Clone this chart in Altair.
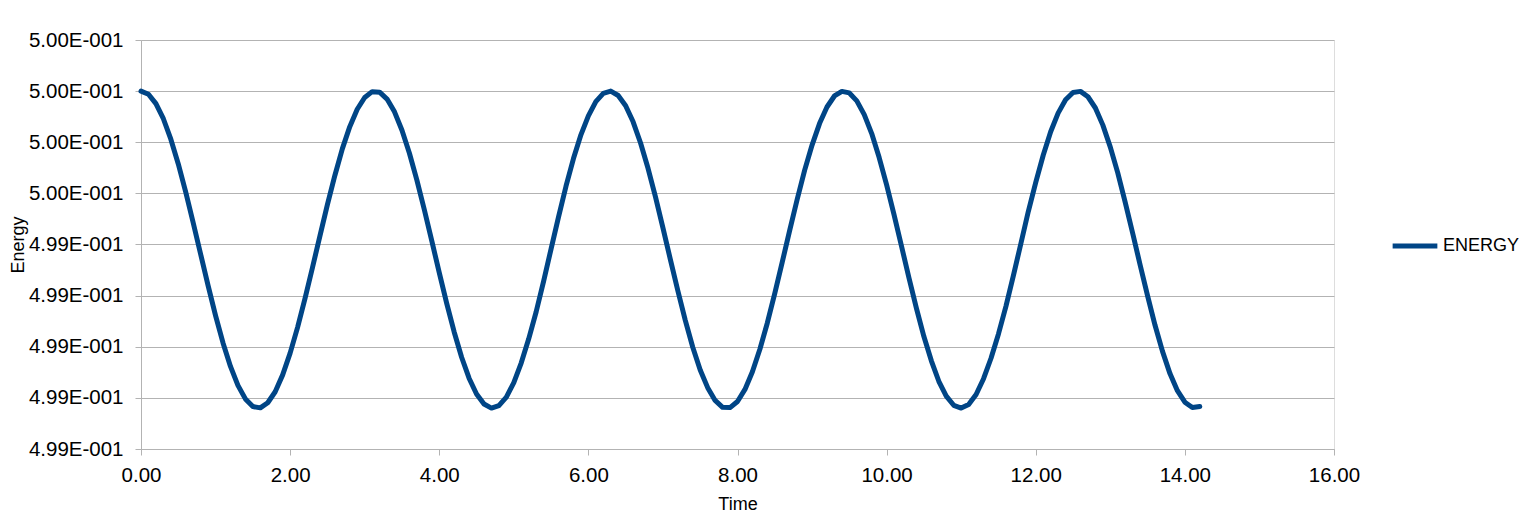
import altair as alt
import pandas as pd

series_name = "ENERGY"

time_values = [
    0.0, 0.1, 0.2, 0.3, 0.4, 0.5, 0.6, 0.7, 0.8, 0.9,
    1.0, 1.1, 1.2, 1.3, 1.4, 1.5, 1.6, 1.7, 1.8, 1.9,
    2.0, 2.1, 2.2, 2.3, 2.4, 2.5, 2.6, 2.7, 2.8, 2.9,
    3.0, 3.1, 3.2, 3.3, 3.4, 3.5, 3.6, 3.7, 3.8, 3.9,
    4.0, 4.1, 4.2, 4.3, 4.4, 4.5, 4.6, 4.7, 4.8, 4.9,
    5.0, 5.1, 5.2, 5.3, 5.4, 5.5, 5.6, 5.7, 5.8, 5.9,
    6.0, 6.1, 6.2, 6.3, 6.4, 6.5, 6.6, 6.7, 6.8, 6.9,
    7.0, 7.1, 7.2, 7.3, 7.4, 7.5, 7.6, 7.7, 7.8, 7.9,
    8.0, 8.1, 8.2, 8.3, 8.4, 8.5, 8.6, 8.7, 8.8, 8.9,
    9.0, 9.1, 9.2, 9.3, 9.4, 9.5, 9.6, 9.7, 9.8, 9.9,
    10.0, 10.1, 10.2, 10.3, 10.4, 10.5, 10.6, 10.7, 10.8, 10.9,
    11.0, 11.1, 11.2, 11.3, 11.4, 11.5, 11.6, 11.7, 11.8, 11.9,
    12.0, 12.1, 12.2, 12.3, 12.4, 12.5, 12.6, 12.7, 12.8, 12.9,
    13.0, 13.1, 13.2, 13.3, 13.4, 13.5, 13.6, 13.7, 13.8, 13.9,
    14.0, 14.1, 14.2,
]

energy_values = [
    0.500000, 0.499988, 0.499951, 0.499892, 0.499812, 0.499715, 0.499605, 0.499485, 0.499362, 0.499239,
    0.499122, 0.499015, 0.498923, 0.498849, 0.498796, 0.498766, 0.498761, 0.498781, 0.498824, 0.498890,
    0.498975, 0.499076, 0.499189, 0.499310, 0.499434, 0.499556, 0.499670, 0.499774, 0.499861, 0.499929,
    0.499975, 0.499998, 0.499996, 0.499969, 0.499919, 0.499847, 0.499757, 0.499652, 0.499536, 0.499414,
    0.499290, 0.499170, 0.499058, 0.498959, 0.498877, 0.498815, 0.498776, 0.498760, 0.498770, 0.498803,
    0.498860, 0.498937, 0.499031, 0.499137, 0.499257, 0.499383, 0.499508, 0.499628, 0.499736, 0.499829,
    0.499903, 0.499959, 0.499991, 0.500000, 0.499983, 0.499943, 0.499880, 0.499797, 0.499698, 0.499586,
    0.499465, 0.499341, 0.499219, 0.499103, 0.498998, 0.498909, 0.498840, 0.498790, 0.498763, 0.498762,
    0.498786, 0.498833, 0.498902, 0.498990, 0.499093, 0.499209, 0.499331, 0.499455, 0.499576, 0.499690,
    0.499789, 0.499873, 0.499938, 0.499981, 0.499999, 0.499993, 0.499962, 0.499908, 0.499834, 0.499740,
    0.499633, 0.499516, 0.499393, 0.499269, 0.499150, 0.499040, 0.498945, 0.498865, 0.498807, 0.498771,
    0.498760, 0.498774, 0.498813, 0.498875, 0.498955, 0.499050, 0.499158, 0.499278, 0.499403, 0.499529,
    0.499643, 0.499749, 0.499841, 0.499914, 0.499966, 0.499995, 0.499999, 0.499978, 0.499934, 0.499867,
    0.499781, 0.499680, 0.499565, 0.499444, 0.499320, 0.499199, 0.499084, 0.498982, 0.498895, 0.498828,
    0.498783, 0.498762, 0.498766,
]

x_ticks = [0, 2, 4, 6, 8, 10, 12, 14, 16]
y_ticks = [0.4986, 0.4988, 0.4990, 0.4992, 0.4994, 0.4996, 0.4998, 0.5000, 0.5002]

df = pd.DataFrame({"Time": time_values, "Energy": energy_values, "series": series_name})

FONT = "Liberation Sans"
GRID = "#b3b3b3"

chart = (
    alt.Chart(df)
    .mark_line(strokeWidth=5, strokeJoin="round", strokeCap="round")
    .encode(
        x=alt.X(
            "Time:Q",
            scale=alt.Scale(domain=[0, 16], nice=False, zero=False),
            axis=alt.Axis(
                values=x_ticks,
                format=".2f",
                title="Time",
                grid=False,
                domainColor=GRID,
                tickColor=GRID,
                tickSize=6,
                labelFontSize=20.5,
                labelPadding=10,
                labelFlush=False,
                labelOverlap=False,
                labelColor="#000000",
                labelFont=FONT,
                titleFont=FONT,
                titleFontSize=18,
                titleFontWeight="normal",
                titleColor="#000000",
                titlePadding=10,
            ),
        ),
        y=alt.Y(
            "Energy:Q",
            scale=alt.Scale(domain=[0.4986, 0.5002], nice=False, zero=False),
            axis=alt.Axis(
                values=y_ticks,
                labelExpr="replace(upper(format(datum.value, '.2e')), 'E-1', 'E-001')",
                title="Energy",
                grid=True,
                gridColor=GRID,
                domainColor=GRID,
                tickColor=GRID,
                tickSize=6,
                labelFontSize=20.5,
                labelPadding=12,
                labelFlush=False,
                labelOverlap=False,
                labelColor="#000000",
                labelFont=FONT,
                titleFont=FONT,
                titleFontSize=18,
                titleFontWeight="normal",
                titleColor="#000000",
                titlePadding=1,
            ),
        ),
        color=alt.Color(
            "series:N",
            scale=alt.Scale(domain=[series_name], range=["#004586"]),
            legend=alt.Legend(
                title=None,
                orient="none",
                legendX=1249,
                legendY=181,
                symbolType="stroke",
                symbolSize=2000,
                symbolStrokeWidth=5,
                labelFontSize=18,
                labelFont=FONT,
                labelColor="#000000",
                labelOffset=3,
                padding=0,
            ),
        ),
    )
    .properties(
        width=1193,
        height=409,
        autosize=alt.AutoSizeParams(type="none"),
        padding={"left": 133, "top": 32, "right": 190, "bottom": 68},
    )
    .configure_view(stroke=GRID, strokeWidth=1)
    .configure(background="#ffffff")
)

chart.save("out.html", embed_options={"renderer": "svg", "actions": False})
